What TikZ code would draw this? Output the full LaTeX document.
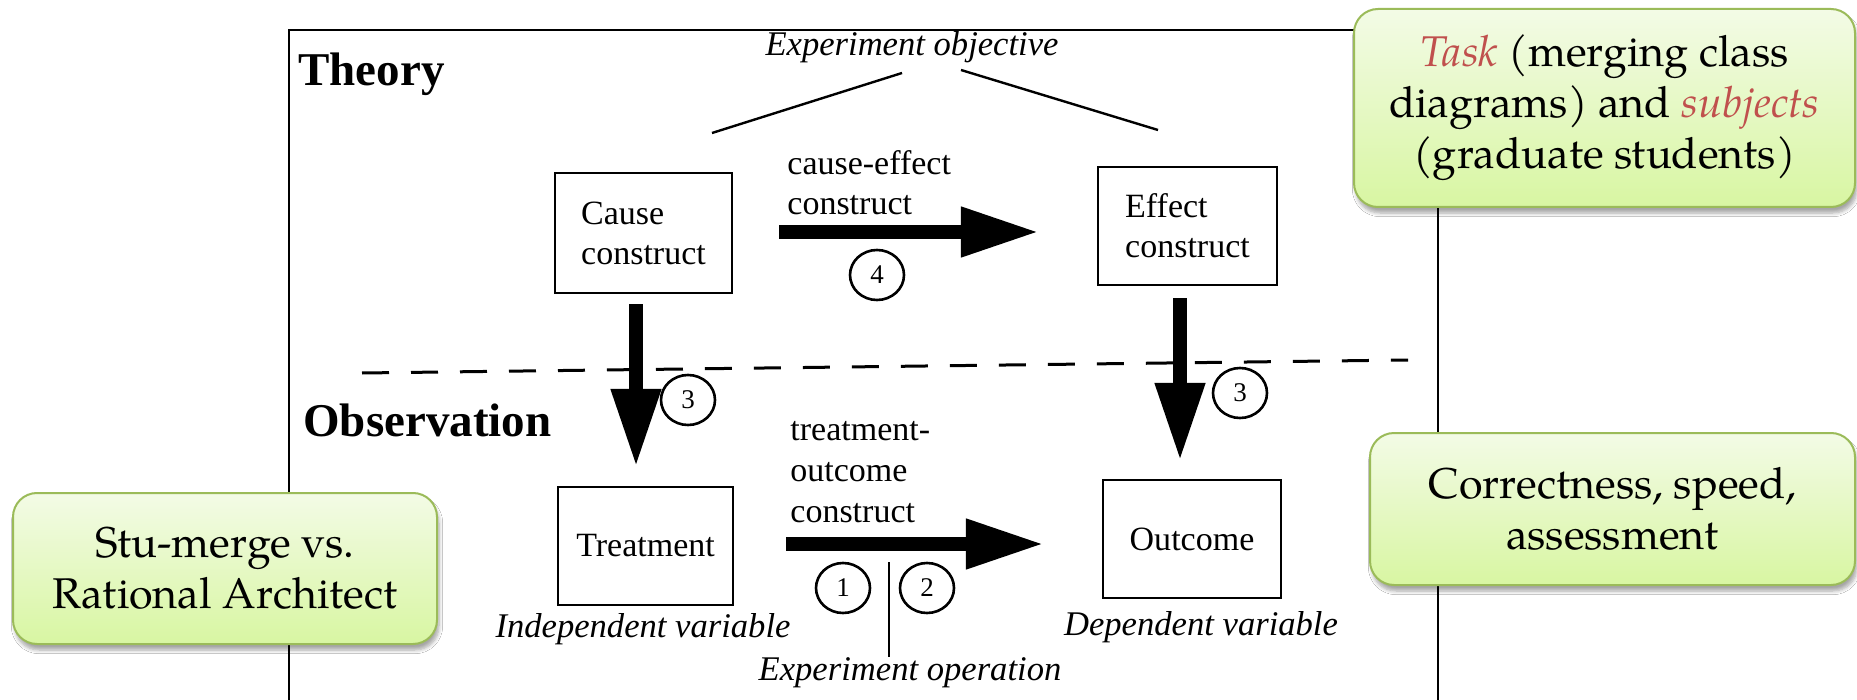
\documentclass[tikz,border=0pt]{standalone}
\usepackage{fontspec}
\setmainfont{Liberation Serif}
\newfontfamily\pal{texgyrepagella}[Extension=.otf,UprightFont=*-regular,ItalicFont=*-italic,BoldFont=*-bold]
\usetikzlibrary{arrows.meta,shapes.geometric,shadows.blur}
\definecolor{gborder}{HTML}{9BBB59}
\definecolor{gtop}{HTML}{F3FBE6}
\definecolor{gbot}{HTML}{D8F6A2}
\definecolor{tred}{HTML}{C0504D}
\begin{document}
\begin{tikzpicture}[x=0.5pt,y=-0.5pt,
  box/.style={draw,line width=1.2pt,inner sep=0pt,align=left,font=\fontsize{17}{20}\selectfont},
  lbl/.style={inner sep=0pt,align=left,font=\fontsize{17}{20.3}\selectfont},
  ital/.style={inner sep=0pt,font=\fontsize{17.3}{20}\selectfont\itshape},
  hd/.style={inner sep=0pt,font=\fontsize{23.5}{26}\selectfont\bfseries},
  num/.style={draw,ellipse,line width=1.3pt,minimum width=27pt,minimum height=25pt,inner sep=0pt,font=\fontsize{13.5}{14}\selectfont},
  fat/.style={line width=7pt,-{Triangle[length=39pt,width=23.5pt]}},
  thin/.style={line width=1pt},
  note/.style={draw=gborder,line width=1pt,rounded corners=12pt,top color=gtop,bottom color=gbot,align=center,
    font=\pal\fontsize{21.5}{25.5}\selectfont,
    blur shadow={shadow xshift=1pt,shadow yshift=-3pt,shadow blur steps=6,shadow opacity=35}},
]
\fill[white] (0,0) rectangle (1857,700);
\useasboundingbox (0,0) rectangle (1857,700);

% frame
\coordinate (fbl) at (289,705);
\coordinate (ftl) at (289,30);
\coordinate (ftr) at (1438,30);
\coordinate (fbr) at (1438,705);
\draw[thin] (fbl) -- (ftl) -- (ftr) -- (fbr);

% headings
\node[hd,anchor=base west] (theory) at (298,86) {Theory};
\node[hd,anchor=base west] (obs) at (303,436) {Observation};

% objective
\node[ital,anchor=base] (obj) at (912,56) {Experiment objective};
\coordinate (ol1) at (902,73);
\coordinate (ol2) at (712,133);
\coordinate (or1) at (961,70);
\coordinate (or2) at (1158,130);
\draw[line width=1.2pt] (ol1) -- (ol2);
\draw[line width=1.2pt] (or1) -- (or2);

% boxes
\node[box,minimum width=88.5pt,minimum height=60pt] (cause) at (643.5,233) {Cause\\construct};
\node[box,minimum width=89.5pt,minimum height=59pt] (effect) at (1187.5,226) {Effect\\construct};
\node[box,minimum width=87.5pt,minimum height=59pt] (treat) at (645.5,546) {Treatment};
\node[box,minimum width=89pt,minimum height=59pt] (outcome) at (1192,539) {Outcome};

% labels (base anchor = baseline of the last line)
\node[lbl,anchor=base west] (celbl) at (787,215) {cause-effect\\construct};
\node[lbl,anchor=base west] (tolbl) at (790,522) {treatment-\\outcome\\construct};
\node[ital,anchor=base] (indep) at (643,637) {Independent variable};
\node[ital,anchor=base] (dep) at (1201,635) {Dependent variable};
\node[ital,anchor=base] (oper) at (910,680) {Experiment operation};

% dashed separator
\coordinate (dl) at (362,373);
\coordinate (dr) at (1408,360);
\draw[line width=1.5pt,dash pattern=on 13.5pt off 11pt] (dl) -- (dr);

% fat arrows
\draw[fat] ([shift={(23pt,0.5pt)}]cause.east) -- ([shift={(-29pt,-3pt)}]effect.west);
\draw[fat] ([shift={(-3.75pt,-5pt)}]cause.south) -- ([shift={(-4.75pt,9.5pt)}]treat.north);
\draw[fat] ([shift={(-3.75pt,-6pt)}]effect.south) -- ([shift={(-6pt,9pt)}]outcome.north);
\draw[fat] ([shift={(26pt,1pt)}]treat.east) -- ([shift={(-29pt,-2.5pt)}]outcome.west);

% circled numbers
\node[num] (c4) at (877,275) {4};
\node[num] (c3l) at (688,400) {3};
\node[num] (c3r) at (1240,393) {3};
\node[num] (c1) at (843,588) {1};
\node[num] (c2) at (927,588) {2};

% operation line
\coordinate (opl) at (889,562);
\draw[line width=0.9pt] (opl) -- (opl |- oper.north);

% green notes
\node[note,minimum width=250.5pt,minimum height=99pt] (task) at (1604.5,108)
  {\textcolor{tred}{\itshape Task} (merging class\\diagrams) and \textcolor{tred}{\itshape subjects}\\(graduate students)};
\node[note,minimum width=242.5pt,minimum height=76pt] (meas) at (1612.5,509)
  {Correctness, speed,\\assessment};
\node[note,minimum width=212pt,minimum height=75.5pt] (tool) at (225,568.5)
  {Stu-merge vs.\\Rational Architect};
\end{tikzpicture}
\end{document}
